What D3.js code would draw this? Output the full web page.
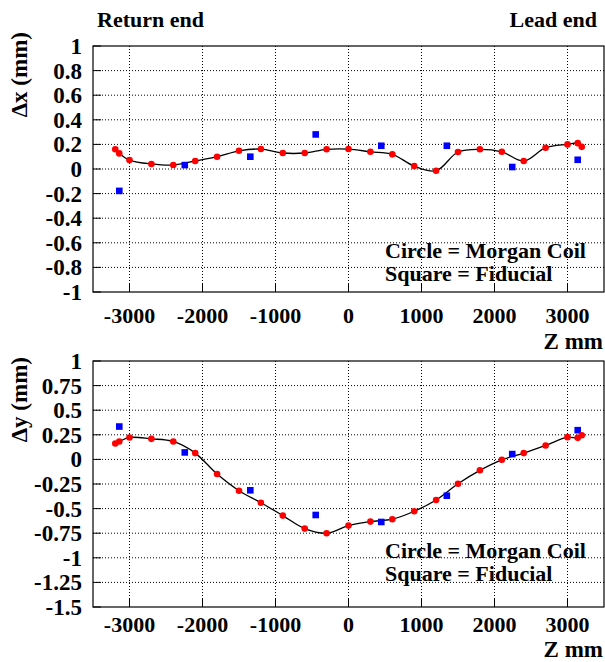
<!DOCTYPE html>
<html>
<head>
<meta charset="utf-8">
<script src="https://cdn.jsdelivr.net/npm/d3@7"></script>
<style>
  body { margin: 0; background: #fff; }
</style>
</head>
<body>
<div class="chart"></div>
<script>
// Morgan coil positions (mm along Z)
const coilZ = [-3195, -3140, -3000, -2700, -2400, -2100, -1800, -1500, -1200, -900, -600, -300,
               0, 300, 600, 900, 1200, 1500, 1800, 2100, 2400, 2700, 3000, 3140, 3195];
const coilDx = [0.16, 0.127, 0.073, 0.041, 0.032, 0.065, 0.10, 0.148, 0.162, 0.13, 0.13, 0.16,
                0.162, 0.14, 0.119, 0.024, -0.014, 0.138, 0.16, 0.14, 0.065, 0.173, 0.20, 0.21, 0.18];
const coilDy = [0.162, 0.182, 0.223, 0.209, 0.182, 0.064, -0.149, -0.318, -0.44, -0.571, -0.703, -0.75,
                -0.673, -0.632, -0.608, -0.527, -0.412, -0.247, -0.111, -0.004, 0.064, 0.142, 0.226, 0.219, 0.246];

// fiducial positions
const fidZ = [-3140, -2243, -1345, -449, 449, 1347, 2243, 3140];
const fidDx = [-0.178, 0.032, 0.10, 0.281, 0.189, 0.189, 0.016, 0.075];
const fidDy = [0.334, 0.071, -0.314, -0.565, -0.636, -0.369, 0.054, 0.297];

const xTicks = [-3000, -2000, -1000, 0, 1000, 2000, 3000];
const dxTicks = [1, 0.8, 0.6, 0.4, 0.2, 0, -0.2, -0.4, -0.6, -0.8, -1];
const dyTicks = [1, 0.75, 0.5, 0.25, 0, -0.25, -0.5, -0.75, -1, -1.25, -1.5];

const width = 605;
const height = 662;
const svg = d3.select('.chart')
    .append('svg')
    .attr('width', width)
    .attr('height', height)
    .attr('font-family', "'Liberation Serif', 'DejaVu Serif', serif")
    .attr('font-weight', 'bold');

// top labels
svg.append('text').text('Return end')
    .attr('x', 97).attr('y', 27).attr('font-size', 22);
svg.append('text').text('Lead end')
    .attr('x', 597).attr('y', 27).attr('font-size', 22)
    .attr('text-anchor', 'end');

const panels = [
    { top: 46, bottom: 292, domain: [-1, 1], ticks: dxTicks, dz: coilDx, df: fidDx,
      title: '\u0394x (mm)', titleEnd: 32, tickBase: 323, zBase: 349, legBase: 258 },
    { top: 361, bottom: 607, domain: [-1.5, 1], ticks: dyTicks, dz: coilDy, df: fidDy,
      title: '\u0394y (mm)', titleEnd: 357, tickBase: 632, zBase: 657, legBase: 558 }
];

const left = 93, right = 604;
const x = d3.scaleLinear().domain([-3500, 3500]).range([left, right]);

panels.forEach(p => {
    const y = d3.scaleLinear().domain(p.domain).range([p.bottom, p.top]);
    const g = svg.append('g');

    // grid
    g.selectAll('.hgrid')
        .data(p.ticks.filter(t => t !== p.domain[0] && t !== p.domain[1]))
        .enter().append('line')
        .attr('x1', left).attr('x2', right)
        .attr('y1', d => y(d)).attr('y2', d => y(d))
        .attr('stroke', '#000').attr('stroke-width', 1)
        .attr('stroke-dasharray', '1,2');
    g.selectAll('.vgrid')
        .data(xTicks)
        .enter().append('line')
        .attr('x1', d => x(d)).attr('x2', d => x(d))
        .attr('y1', p.top).attr('y2', p.bottom)
        .attr('stroke', '#000').attr('stroke-width', 1)
        .attr('stroke-dasharray', '1,2');

    // tick marks
    g.selectAll('.ytick')
        .data(p.ticks)
        .enter().append('line')
        .attr('x1', left).attr('x2', left + 8)
        .attr('y1', d => y(d)).attr('y2', d => y(d))
        .attr('stroke', '#000');
    g.selectAll('.xtick')
        .data(xTicks)
        .enter().append('line')
        .attr('x1', d => x(d)).attr('x2', d => x(d))
        .attr('y1', p.bottom).attr('y2', p.bottom - 8)
        .attr('stroke', '#000');

    // frame
    g.append('rect')
        .attr('x', left).attr('y', p.top)
        .attr('width', right - left).attr('height', p.bottom - p.top)
        .attr('fill', 'none').attr('stroke', '#000').attr('stroke-width', 1.2);

    // tick labels
    g.selectAll('.ylabel')
        .data(p.ticks)
        .enter().append('text')
        .text(d => d)
        .attr('x', 82).attr('y', d => y(d))
        .attr('dy', '0.35em')
        .attr('text-anchor', 'end')
        .attr('font-size', 23);
    g.selectAll('.xlabel')
        .data(xTicks)
        .enter().append('text')
        .text(d => d)
        .attr('x', d => x(d)).attr('y', p.tickBase)
        .attr('text-anchor', 'middle')
        .attr('font-size', 22);

    // axis titles
    g.append('text').text('Z mm')
        .attr('x', 603).attr('y', p.zBase)
        .attr('text-anchor', 'end')
        .attr('font-size', 23);
    g.append('text').text(p.title)
        .attr('transform', `translate(27,${p.titleEnd}) rotate(-90)`)
        .attr('text-anchor', 'end')
        .attr('font-size', 23);

    // curve through coil points
    const pts = coilZ.map((z, i) => [z, p.dz[i]]);
    const line = d3.line()
        .x(d => x(d[0])).y(d => y(d[1]))
        .curve(d3.curveCatmullRom.alpha(0.5));
    g.append('path')
        .attr('d', line(pts))
        .attr('fill', 'none').attr('stroke', '#000').attr('stroke-width', 1.3);

    // fiducials
    g.selectAll('.fid')
        .data(fidZ.map((z, i) => [z, p.df[i]]))
        .enter().append('rect')
        .attr('x', d => x(d[0]) - 3.3).attr('y', d => y(d[1]) - 3.3)
        .attr('width', 6.6).attr('height', 6.6)
        .attr('fill', '#0000ff');

    // coil circles
    g.selectAll('.coil')
        .data(pts)
        .enter().append('circle')
        .attr('cx', d => x(d[0])).attr('cy', d => y(d[1]))
        .attr('r', 3.3)
        .attr('fill', '#ff0000');

    // legend text
    g.append('text').text('Circle = Morgan Coil')
        .attr('x', 385).attr('y', p.legBase)
        .attr('font-size', 22);
    g.append('text').text('Square = Fiducial')
        .attr('x', 385).attr('y', p.legBase + 23)
        .attr('font-size', 22);
});
</script>
</body>
</html>
